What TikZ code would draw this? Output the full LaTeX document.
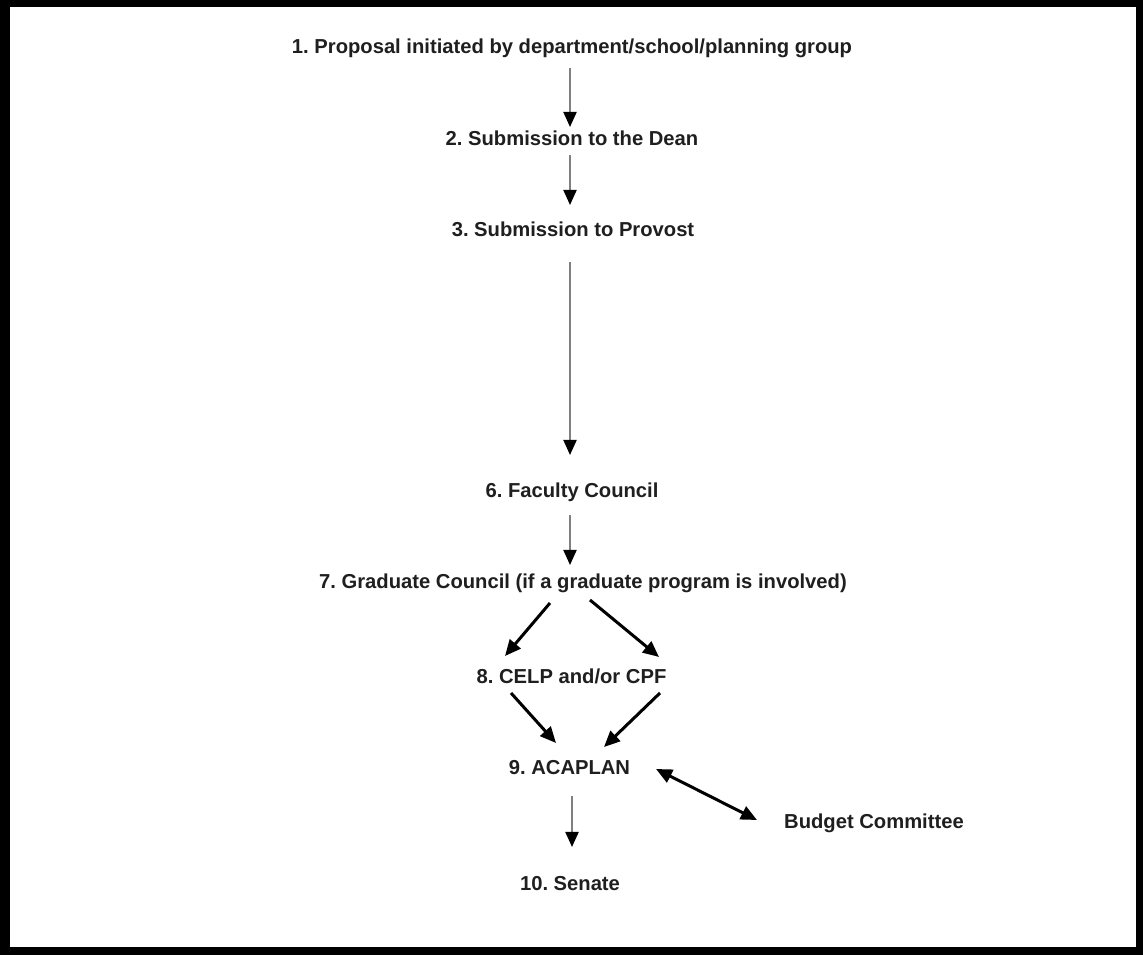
\documentclass[tikz,border=0pt]{standalone}
\usepackage{fontspec}
\setmainfont{Liberation Sans}
\usetikzlibrary{arrows.meta,calc}
\frenchspacing
\tikzset{
  lbl/.style={inner sep=0pt, anchor=base, font=\bfseries\fontsize{20.2}{24}\selectfont\frenchspacing, text=black!88},
  varrow/.style={draw=black!50, line width=2pt, -{Triangle[length=15pt,width=13pt,fill=black,color=black]}},
  darrow/.style={draw=black, line width=3pt, -{Triangle[length=16pt,width=14pt]}},
  bothway/.style={draw=black, line width=3pt, {Triangle[length=16pt,width=14pt]}-{Triangle[length=16pt,width=14pt]}}
}
\begin{document}
\begin{tikzpicture}[x=1pt,y=1pt]
\fill[black] (0,0) rectangle (1143,955);
\fill[white] (10,8) rectangle (1136,948);
\useasboundingbox (0,0) rectangle (1143,955);
% nodes (base positions, y measured from bottom)
\node[lbl] (n1) at (572,901) {1. Proposal initiated by department/school/planning group};
\node[lbl] (n2) at (572,809) {2. Submission to the Dean};
\node[lbl] (n3) at (573,718) {3. Submission to Provost};
\node[lbl] (n6) at (572,457) {6. Faculty Council};
\node[lbl] (n7) at (583,366) {7. Graduate Council (if a graduate program is involved)};
\node[lbl] (n8) at (571.5,271) {8. CELP and/or CPF};
\node[lbl] (n9) at (569.5,180) {9. ACAPLAN};
\node[lbl] (bud) at (874,126) {Budget Committee};
\node[lbl] (n10) at (570,64) {10. Senate};
% vertical arrows
\draw[varrow] ($(n1.base)+(-2,-14)$) -- ($(n2.base)+(-2,19)$);
\draw[varrow] ($(n2.base)+(-2,-9)$) -- ($(n3.base)+(-3,32)$);
\draw[varrow] ($(n3.base)+(-3,-25)$) -- ($(n6.base)+(-2,43)$);
\draw[varrow] ($(n6.base)+(-2,-17)$) -- ($(n7.base)+(-13,24)$);
\draw[varrow] ($(n9.base)+(2.5,-21)$) -- ($(n10.base)+(2,44)$);
% diagonal arrows
\draw[darrow] ($(n7.base)+(-33,-14)$) -- ($(n8.base)+(-66.5,28)$);
\draw[darrow] ($(n7.base)+(7,-11)$) -- ($(n8.base)+(87.5,27)$);
\draw[darrow] ($(n8.base)+(-60.5,-9)$) -- ($(n9.base)+(-13.5,32)$);
\draw[darrow] ($(n8.base)+(88.5,-9)$) -- ($(n9.base)+(34.5,28)$);
\draw[bothway] ($(n9.base)+(86.5,6)$) -- ($(bud.base)+(-117,9)$);
\end{tikzpicture}
\end{document}
